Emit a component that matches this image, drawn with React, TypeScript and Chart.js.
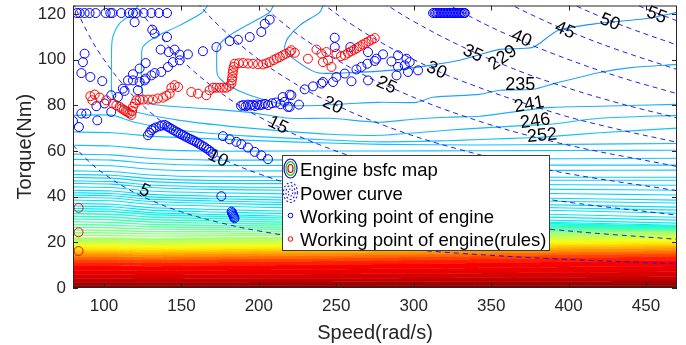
import React, { useEffect, useRef } from 'react';
import { Chart, registerables } from 'chart.js';
Chart.register(...registerables);

const FONT = '"Liberation Sans", Arial, Helvetica, sans-serif';

// ---------- axes ----------
const xTicks = [100, 150, 200, 250, 300, 350, 400, 450];
const yTicks = [0, 20, 40, 60, 80, 100, 120];
const xMin = 80, xMax = 470, yMin = 0, yMax = 123.7;

// ---------- contour grid (speed samples for the near-horizontal contours) ----------
const gridSpeeds = [80, 105, 130, 170, 220, 280, 340, 400, 470];

// filled high-bsfc bands (upper boundary torque at gridSpeeds), bottom to top
const bandTops: number[][] = [
  [1.0, 1.0, 1.0, 1.0, 1.0, 1.1, 1.1, 1.2, 1.2],
  [2.5, 2.5, 2.4, 2.5, 2.6, 2.7, 2.8, 3.0, 3.1],
  [4.0, 4.0, 3.9, 4.0, 4.1, 4.3, 4.5, 4.7, 4.9],
  [5.8, 5.8, 5.7, 5.8, 6.0, 6.2, 6.5, 6.8, 7.1],
  [7.8, 7.8, 7.6, 7.8, 8.0, 8.4, 8.8, 9.2, 9.6],
  [9.8, 9.8, 9.5, 9.8, 10.1, 10.5, 11.0, 11.5, 12.0],
  [11.3, 11.3, 11.0, 11.3, 11.6, 12.1, 12.7, 13.3, 13.8],
  [12.6, 12.6, 12.3, 12.6, 12.9, 13.4, 14.0, 14.6, 15.1],
  [13.8, 13.8, 13.5, 13.8, 14.1, 14.6, 15.2, 15.8, 16.3],
  [15.0, 15.0, 14.7, 15.0, 15.3, 15.8, 16.4, 17.0, 17.5],
  [16.0, 16.0, 15.7, 16.0, 16.3, 16.8, 17.4, 18.0, 18.5],
  [17.0, 17.0, 16.7, 17.0, 17.3, 17.8, 18.4, 19.0, 19.5],
  [18.0, 18.0, 17.7, 18.0, 18.3, 18.8, 19.4, 20.0, 20.5],
  [19.0, 19.0, 18.7, 19.0, 19.3, 19.8, 20.4, 21.0, 21.5],
  [20.0, 20.0, 19.7, 20.0, 20.3, 20.8, 21.4, 22.0, 22.5],
  [21.0, 21.0, 20.7, 21.0, 21.3, 21.8, 22.4, 23.0, 23.5],
  [22.0, 22.0, 21.7, 22.0, 22.3, 22.8, 23.4, 24.0, 24.5],
];
const bandColors = [
  '#860000', '#a40000', '#c00000', '#d80000', '#ea0000', '#f80000', '#ff1e00', '#ff4400',
  '#ff6c00', '#ff9200', '#ffb200', '#ffd200', '#fff000', '#f0ff1e', '#d8ff3c', '#c0ff56', '#a8ff6e',
];

// unlabelled contour lines (torque at gridSpeeds), top to bottom
const contourLines: number[][] = [
  [68.3, 68.0, 66.5, 65.3, 64.0, 62.9, 62.6, 62.9, 63.3],
  [62.5, 62.2, 60.7, 59.9, 60.0, 60.0, 60.1, 60.2, 60.3],
  [58.6, 58.3, 56.8, 56.0, 56.1, 56.3, 56.5, 56.6, 56.8],
  [56.3, 56.0, 54.5, 53.7, 53.7, 53.7, 53.8, 53.8, 53.8],
  [53.8, 53.5, 52.0, 51.2, 51.3, 51.3, 51.4, 51.5, 51.6],
  [51.3, 51.0, 49.5, 48.7, 48.7, 48.6, 48.6, 48.5, 48.5],
  [49.7, 49.4, 47.9, 47.1, 47.1, 47.1, 47.2, 47.2, 47.2],
  [48.4, 48.1, 46.6, 45.8, 45.7, 45.5, 45.3, 45.2, 45.0],
  [46.9, 46.6, 45.1, 44.3, 44.0, 43.8, 43.5, 43.2, 42.8],
  [45.8, 45.5, 44.0, 43.2, 42.8, 42.3, 41.8, 41.3, 40.7],
  [44.3, 44.0, 42.5, 41.7, 41.2, 40.5, 39.9, 39.2, 38.5],
  [42.8, 42.5, 41.0, 40.2, 39.7, 39.1, 38.5, 37.9, 37.2],
  [41.7, 41.4, 39.9, 39.1, 38.5, 37.7, 37.0, 36.3, 35.4],
  [40.7, 40.4, 38.9, 38.1, 37.4, 36.6, 35.8, 35.0, 34.1],
  [39.7, 39.4, 37.9, 37.1, 36.4, 35.5, 34.7, 33.8, 32.8],
  [38.5, 38.2, 36.7, 35.9, 35.1, 34.1, 33.1, 32.1, 31.0],
  [37.0, 36.7, 35.2, 34.4, 33.6, 32.7, 31.7, 30.8, 29.7],
  [35.9, 35.6, 34.1, 33.3, 32.5, 31.5, 30.5, 29.5, 28.4],
  [34.8, 34.5, 33.0, 32.2, 31.4, 30.5, 29.5, 28.6, 27.5],
  [33.8, 33.5, 32.2, 31.4, 30.6, 29.8, 28.9, 28.0, 27.1],
  [32.6, 32.3, 31.1, 30.4, 29.7, 29.0, 28.2, 27.5, 26.8],
  [31.4, 31.1, 30.0, 29.4, 28.8, 28.2, 27.6, 27.0, 26.5],
  [30.2, 29.9, 28.9, 28.4, 27.9, 27.5, 27.0, 26.6, 26.2],
  [29.0, 28.7, 27.8, 27.4, 27.1, 26.8, 26.5, 26.2, 25.9],
  [27.8, 27.5, 26.8, 26.5, 26.3, 26.1, 25.9, 25.8, 25.6],
  [26.6, 26.4, 25.8, 25.6, 25.5, 25.4, 25.4, 25.4, 25.4],
  [25.4, 25.2, 24.7, 24.6, 24.6, 24.7, 24.9, 25.0, 25.2],
  [24.2, 24.1, 23.7, 23.7, 23.8, 24.1, 24.4, 24.7, 25.0],
  [23.1, 23.0, 22.7, 22.9, 23.1, 23.5, 23.9, 24.4, 24.8],
];

// labelled bsfc contours: [speed, torque]
const contour229 = [[241.5, 123.7], [239.3, 120.7], [226.4, 115], [218.6, 109.3], [216.7, 104.9], [221.2, 101], [237.3, 94.4], [263.2, 94.4], [284.5, 95.3], [310.4, 97.5], [329.7, 99.7], [355.6, 104.5], [377, 105.4], [393.1, 112.8], [420.2, 115.9], [450.6, 118], [470, 120.7]];
const contour235 = [[209.5, 123.7], [206.4, 120.4], [189.6, 114.1], [179.2, 109.7], [173.4, 105.4], [172.8, 98.8], [173.4, 93.1], [179.2, 89.2], [194.1, 84.4], [219.9, 80], [241.2, 80], [263.2, 80.9], [278.1, 81.3], [302, 81.3], [312.3, 83.5], [342.7, 84.8], [355.6, 86.6], [377, 87], [391.1, 89.6], [420.2, 94.4], [441.5, 96.6], [470, 97.9]];
const contour241 = [[167, 123.7], [163.1, 120.4], [148.9, 115], [132.7, 109.7], [125, 105.4], [124.3, 98.8], [124.3, 88.8], [126.3, 82.2], [135.9, 80], [161.8, 78.7], [194.1, 76.9], [219.9, 74.3], [245.7, 74.3], [278.1, 72.6], [299.4, 73.9], [321.4, 74.8], [342.7, 75.2], [362.1, 76.9], [387.9, 79.1], [420.2, 79.6], [470, 80.4]];
const contour246 = [[122, 123.7], [118.5, 120.2], [110.1, 115.9], [105.6, 109.7], [104.9, 104.1], [104.9, 95.3], [104.9, 86.6], [106.9, 82.2], [116.6, 77.8], [148.9, 73.4], [194.1, 70], [245.7, 67.3], [278.1, 66.9], [321.4, 69.1], [342.7, 70], [375, 71.3], [387.9, 71.7], [420.2, 74.3], [470, 75.6]];
const contour252 = [[80, 75.6], [105.6, 75.6], [119.8, 72.6], [148.9, 69.1], [194.1, 66.5], [245.7, 64.8], [278.1, 64], [321.4, 64.5], [342.7, 65], [375, 65.8], [387.9, 66.3], [420.2, 68], [470, 70]];
const labelledContours = [contour229, contour235, contour241, contour246, contour252];
const labelledContourColors = ['#2096f3', '#22a6f4', '#1eb0f6', '#1ab8f8', '#16c0fa'];

const contourLabelText = ['229', '235', '241', '246', '252'];
const contourLabelSpeed = [357.5, 368.8, 374.6, 378.5, 382.9];
const contourLabelTorque = [100.8, 88.8, 80.2, 73, 66.7];
const contourLabelAngle = [-35, 0, -10, -8, -5];

// ---------- power curves (kW) : [speed rad/s, torque Nm] ----------
const powerLevels = [5, 10, 15, 20, 25, 30, 35, 40, 45, 50, 55];
const power5 = [[80, 62.5], [90, 55.6], [100, 50], [115, 43.5], [130, 38.5], [150, 33.3], [175, 28.6], [200, 25], [240, 20.8], [280, 17.9], [330, 15.2], [390, 12.8], [470, 10.6]];
const power10 = [[80, 125], [90, 111.1], [100, 100], [115, 87], [130, 76.9], [150, 66.7], [175, 57.1], [200, 50], [240, 41.7], [280, 35.7], [330, 30.3], [390, 25.6], [470, 21.3]];
const power15 = [[120, 125], [130, 115.4], [150, 100], [175, 85.7], [200, 75], [240, 62.5], [280, 53.6], [330, 45.5], [390, 38.5], [470, 31.9]];
const power20 = [[160, 125], [175, 114.3], [200, 100], [220, 90.9], [240, 83.3], [280, 71.4], [330, 60.6], [390, 51.3], [470, 42.6]];
const power25 = [[200, 125], [220, 113.6], [240, 104.2], [260, 96.2], [280, 89.3], [330, 75.8], [390, 64.1], [470, 53.2]];
const power30 = [[240, 125], [260, 115.4], [280, 107.1], [300, 100], [330, 90.9], [390, 76.9], [430, 69.8], [470, 63.8]];
const power35 = [[280, 125], [300, 116.7], [330, 106.1], [360, 97.2], [390, 89.7], [430, 81.4], [470, 74.5]];
const power40 = [[320, 125], [340, 117.6], [360, 111.1], [390, 102.6], [430, 93], [470, 85.1]];
const power45 = [[360, 125], [380, 118.4], [400, 112.5], [430, 104.7], [470, 95.7]];
const power50 = [[400, 125], [420, 119], [440, 113.6], [470, 106.4]];
const power55 = [[440, 125], [455, 120.9], [470, 117]];
const powerCurves = [power5, power10, power15, power20, power25, power30, power35, power40, power45, power50, power55];

const powerLabelSpeed = [126.3, 173.6, 212.4, 247.7, 282.4, 314.7, 338.2, 369.6, 397.6, 426.6, 456.8];
const powerLabelTorque = [42.5, 56.7, 71.3, 80, 88.8, 95.3, 102.7, 109.2, 112.8, 116.4, 119.4];
const powerLabelAngle = [25, 26, 26, 26, 25, 24, 24, 23, 23, 22, 21];

// ---------- working points ----------
const engineTopRow = [82.5, 84.3, 87.5, 90.7, 94.6, 101.1, 104.1, 105.4, 111.2, 116.1, 118.7, 120.9, 125.6, 130.6, 135.5, 140.7];
const engineTopBlob = [312.5, 313.5, 314.5, 315.5, 316.5, 317.5, 318.5, 319.5, 320.5, 321.5, 322.5, 323.5, 324.5, 325.5, 326.5, 327.5, 328.5, 329.5, 330.5, 331.5, 332.5, 333];
const enginePoints = [
  [119.8, 116.4], [131.2, 113.1], [132.7, 111.4], [140.7, 109.9], [87.5, 102.6], [86.4, 98.9], [85.4, 94.1], [91.2, 92.4], [98.9, 90.6],
  [126.9, 98.5], [136.6, 104.4], [141.8, 103.3], [145.6, 104.4], [148.9, 102.2], [154.2, 102.3], [163.9, 103.7], [148.9, 99.7], [144.5, 98.9],
  [141.3, 96.8], [137, 94.6], [132.7, 94.1], [130.6, 93.1], [126.9, 91.7], [123, 96.1], [118.7, 93.6], [115.5, 90.9], [112.2, 87.3],
  [113.3, 86.3], [109, 83.6], [104.7, 84.4], [100.4, 80.8], [95.1, 79.6], [104.7, 77.1], [95.7, 73.4], [85.4, 76.4], [88.6, 76.4],
  [80, 73.1], [83.8, 70.5], [123, 90.2], [121.9, 86.6], [126.3, 90.9], [118.7, 90.9],
  [172.6, 105.5], [181.2, 108.1], [186.5, 108.7], [194.1, 109.9], [201.6, 112.1], [203.8, 115.7], [207, 117.5],
  [188.5, 79.8], [190, 80.1], [191.5, 79.6], [193, 80.3], [194.5, 79.9], [196, 80.2], [197.5, 79.7], [199, 80.4], [200.5, 80],
  [202, 80.3], [204, 80.6], [206, 80.1], [208.5, 80.9], [211, 81.2], [214, 80.5], [219.9, 84.7], [215.4, 83.6], [218.7, 79.3], [216.5, 81.5],
  [128.4, 66.9], [129.5, 68], [130.6, 69.1], [132, 69.8], [133.5, 70.3], [135.9, 70.8], [137.5, 71.2], [139.2, 71.4], [140.7, 70.8],
  [142, 70.3], [143.5, 69.7], [145, 69.1], [146.5, 68.5], [148, 68], [149.5, 67.4], [151, 66.9], [152.5, 66.3], [154, 65.8],
  [155.5, 65.3], [157, 64.8], [158.5, 64.3], [160, 63.7], [161.5, 63.1], [163, 62.5], [164.5, 61.9], [166, 61.2], [167.5, 60.5],
  [169, 59.7], [170.4, 58.9],
  [176.8, 66.5], [181.2, 65.1], [185.5, 64], [188.7, 63], [193, 61.5], [197.3, 59.6], [201.6, 58.1], [205.9, 56.4],
  [175.8, 40.2], [182.4, 33.4], [182.8, 32.8], [183.2, 32.2], [183.6, 31.6], [184, 31], [184.3, 30.5],
  [249, 109.6], [249, 105.5], [259.1, 105.5], [270.5, 103.3], [280.2, 102.3], [289.9, 101.9], [295.3, 100.4], [297.4, 98.9], [294.2, 97.5],
  [289.9, 96.8], [285.6, 99.2], [275.9, 100.4], [274.8, 99.4], [270.1, 98.2], [266.2, 96.8], [263, 95.7], [255.5, 93.9], [250.1, 92.4],
  [247.9, 90.2], [241.4, 90.2], [240.4, 89.5], [235, 88.3], [229.6, 87], [221, 84.4], [225.9, 80.3], [219.9, 79.3], [259.8, 90.5],
  [270.5, 90.9], [288.9, 93.1], [296.3, 94.6], [302.8, 95.3],
];
const rulesPoints = [
  [91.2, 84], [94, 84.7], [92.5, 82.2], [97.2, 83.4], [101.5, 82.2], [105.8, 80.8], [108, 80], [110.1, 79.3], [111.5, 78.6], [112.8, 78],
  [114, 77.5], [115.2, 77], [116.5, 76.5], [117.7, 75.8], [118.2, 77.5], [118.7, 79.3], [120, 80.8], [120.9, 82.2], [123, 82.4], [125.2, 82.5],
  [128.5, 82.5], [131.6, 82.5], [134.8, 83], [138.1, 83.4], [140.3, 84.2], [142.4, 85.1], [143.5, 87.7], [145.6, 88.8], [147.8, 88],
  [156.4, 85.8], [160.7, 85.1], [166.1, 84.4], [168.2, 86.6], [170.4, 87.7], [172.5, 87.7], [174.7, 87.7], [177, 87.7], [179, 87.7],
  [181, 88.5], [182.3, 89.5], [182.6, 91], [182.9, 92.4], [183.1, 94], [183.3, 95.3], [183.8, 96.8], [184.4, 98.2], [187, 98.4],
  [189.8, 98.5], [193, 98.3], [196.2, 98.2], [199.5, 98], [202.7, 97.9], [205, 98.4], [207, 98.9], [209.5, 99.8], [211.5, 100.5],
  [213.5, 101.1], [215.5, 101.9], [217.5, 102.6], [219.9, 103.3], [223.2, 103],
  [221, 104.1], [231.7, 100.4], [237.2, 104.4], [240.4, 102.6], [241.4, 98.9], [243.6, 103.3], [244.7, 99.7], [246.9, 96.8], [250.1, 102.6],
  [253, 101.5], [255.5, 101.9], [257.6, 102.9], [259.5, 103.6], [261.4, 104.3], [263.3, 105], [265.2, 105.8], [267.1, 106.6], [269, 107.3],
  [270.9, 108], [272.8, 108.7], [274.8, 109.4],
  [83.6, 35.1], [83.6, 24.4], [83.6, 16.2],
];

const legendLabels = ['Engine bsfc map', 'Power curve', 'Working point of engine', 'Working point of engine(rules)'];

// ---------- helpers ----------
function mix(a: string, b: string, t: number) {
  const pa = [1, 3, 5].map((i) => parseInt(a.slice(i, i + 2), 16));
  const pb = [1, 3, 5].map((i) => parseInt(b.slice(i, i + 2), 16));
  return 'rgb(' + pa.map((v, i) => Math.round(v + (pb[i] - v) * t)).join(',') + ')';
}
const xy = (arr: number[][]) => arr.map(([x, y]) => ({ x, y }));
const onGrid = (arr: number[]) => gridSpeeds.map((x, i) => ({ x, y: arr[i] }));

function buildDatasets() {
  const ds: any[] = [];
  const pointBase = { showLine: false, pointRadius: 4.5, pointBorderWidth: 1, pointBackgroundColor: 'rgba(0,0,0,0)', pointStyle: 'circle' };
  ds.push({ ...pointBase, data: xy(rulesPoints), pointBorderColor: '#ff0000', borderColor: '#ff0000', order: 1 });
  const blue = [
    ...engineTopRow.map((x) => [x, 120.4]),
    ...engineTopBlob.map((x) => [x, 120.4]),
    ...enginePoints,
  ];
  ds.push({ ...pointBase, data: xy(blue), pointBorderColor: '#0000ff', borderColor: '#0000ff', order: 2 });
  powerCurves.forEach((c) => {
    ds.push({ data: xy(c), borderColor: 'rgba(10,10,240,0.9)', borderWidth: 1, borderDash: [5, 4], pointRadius: 0, tension: 0.4, fill: false, order: 3 });
  });
  labelledContours.forEach((c, i) => {
    ds.push({ data: xy(c), borderColor: labelledContourColors[i], borderWidth: 1.1, pointRadius: 0, tension: 0.25, fill: false, order: 4 });
  });
  contourLines.forEach((c, i) => {
    let col: string;
    if (i < 19) col = mix('#14beff', '#00ecf2', i / 18);
    else col = mix('#14fadc', '#9cff74', (i - 19) / 9);
    ds.push({ data: onGrid(c), borderColor: col, borderWidth: i < 19 ? 1.1 : 1.4, pointRadius: 0, tension: 0.2, fill: false, order: 5 });
  });
  bandTops.forEach((c, i) => {
    ds.push({
      data: onGrid(c),
      borderColor: i + 1 < bandColors.length ? mix(bandColors[i], bandColors[i + 1], 0.5) : bandColors[i],
      borderWidth: 0.8,
      backgroundColor: bandColors[i],
      pointRadius: 0,
      tension: 0.2,
      fill: i === 0 ? 'origin' : '-1',
      order: 6,
    });
  });
  return ds;
}

const overlayPlugin = {
  id: 'overlay',
  afterDatasetsDraw(chart: any) {
    const ctx = chart.ctx;
    const xs = chart.scales.x, ys = chart.scales.y;
    ctx.save();
    ctx.fillStyle = '#000';
    ctx.font = '18px ' + FONT;
    ctx.textAlign = 'center';
    ctx.textBaseline = 'middle';
    const put = (t: string, sx: number, ty: number, ang: number) => {
      ctx.save();
      ctx.translate(xs.getPixelForValue(sx), ys.getPixelForValue(ty));
      ctx.rotate((ang * Math.PI) / 180);
      ctx.fillText(t, 0, 0);
      ctx.restore();
    };
    powerLevels.forEach((p, i) => put(String(p), powerLabelSpeed[i], powerLabelTorque[i], powerLabelAngle[i]));
    contourLabelText.forEach((t, i) => put(t, contourLabelSpeed[i], contourLabelTorque[i], contourLabelAngle[i]));
    ctx.restore();
  },
  afterDraw(chart: any) {
    const ctx = chart.ctx;
    const { left, top, right, bottom } = chart.chartArea;
    const xs = chart.scales.x, ys = chart.scales.y;
    ctx.save();
    // legend
    const lx = 282, ly = 155, lw = 268, lh = 96;
    ctx.fillStyle = '#ffffff';
    ctx.fillRect(lx, ly, lw, lh);
    ctx.strokeStyle = '#3c3c3c';
    ctx.lineWidth = 1;
    ctx.strokeRect(lx + 0.5, ly + 0.5, lw - 1, lh - 1);
    const ell = (cx: number, cy: number, rx: number, ry: number, color: string, dash: number[] = [], w = 1.2) => {
      ctx.beginPath();
      ctx.setLineDash(dash);
      ctx.strokeStyle = color;
      ctx.lineWidth = w;
      ctx.ellipse(cx, cy, rx, ry, 0, 0, Math.PI * 2);
      ctx.stroke();
    };
    ell(290.5, 168.5, 6.5, 9.5, '#0a0ac8');
    ell(290.5, 168.5, 4.5, 6.8, '#20c020');
    ell(290.5, 168.5, 2.5, 4, '#c00000');
    ell(290.5, 192.5, 7, 10, '#2828e0', [2, 2]);
    ell(290.5, 192.5, 4.6, 7, '#2828e0', [2, 2]);
    ell(290.5, 192.5, 2.2, 3.6, '#2828e0', [1.5, 1.5]);
    ctx.setLineDash([]);
    ell(290.5, 215.5, 2.3, 2.3, '#0000ff', [], 1);
    ell(290.5, 239, 2.3, 2.3, '#ff0000', [], 1);
    ctx.fillStyle = '#000';
    ctx.font = '18.5px ' + FONT;
    ctx.textAlign = 'left';
    ctx.textBaseline = 'alphabetic';
    const baselines = [176, 199.5, 223, 246];
    legendLabels.forEach((t, i) => ctx.fillText(t, 300, baselines[i]));
    // axes box and inward ticks
    ctx.strokeStyle = '#262626';
    ctx.lineWidth = 1;
    ctx.strokeRect(left + 0.5, top + 0.5, right - left - 1, bottom - top - 1);
    ctx.beginPath();
    xTicks.forEach((v) => {
      const px = Math.round(xs.getPixelForValue(v)) + 0.5;
      ctx.moveTo(px, bottom); ctx.lineTo(px, bottom - 5);
      ctx.moveTo(px, top); ctx.lineTo(px, top + 5);
    });
    yTicks.forEach((v) => {
      const py = Math.round(ys.getPixelForValue(v)) + 0.5;
      ctx.moveTo(left, py); ctx.lineTo(left + 5, py);
      ctx.moveTo(right, py); ctx.lineTo(right - 5, py);
    });
    ctx.stroke();
    ctx.restore();
  },
};

export default function App() {
  const ref = useRef<HTMLCanvasElement>(null);
  useEffect(() => {
    document.body.style.margin = '0';
    const chart = new Chart(ref.current as HTMLCanvasElement, {
      type: 'line',
      data: { datasets: buildDatasets() },
      options: {
        animation: false,
        responsive: false,
        devicePixelRatio: 1,
        events: [],
        layout: { padding: { top: 5, right: 9, left: 0, bottom: 0 } },
        plugins: { legend: { display: false }, tooltip: { enabled: false } },
        scales: {
          x: {
            type: 'linear',
            min: xMin,
            max: xMax,
            grid: { display: false, drawTicks: false },
            border: { display: false },
            ticks: { font: { family: FONT, size: 17 }, color: '#262626', padding: 8, autoSkip: false, maxRotation: 0 },
            title: { display: true, text: 'Speed(rad/s)', font: { family: FONT, size: 20 }, color: '#262626', padding: { top: 0, bottom: 0 } },
            afterBuildTicks: (s: any) => { s.ticks = xTicks.map((v) => ({ value: v })); },
            afterFit: (s: any) => { s.height = 57; s.paddingLeft = 0; s.paddingRight = 0; },
          },
          y: {
            type: 'linear',
            min: yMin,
            max: yMax,
            grid: { display: false, drawTicks: false },
            border: { display: false },
            ticks: { font: { family: FONT, size: 17 }, color: '#262626', padding: 7, autoSkip: false },
            title: { display: true, text: 'Torque(Nm)', font: { family: FONT, size: 20 }, color: '#262626', padding: { top: 13, bottom: 0 } },
            afterBuildTicks: (s: any) => { s.ticks = yTicks.map((v) => ({ value: v })); },
            afterFit: (s: any) => { s.width = 73; s.paddingTop = 0; s.paddingBottom = 0; },
          },
        },
      } as any,
      plugins: [overlayPlugin],
    });
    return () => chart.destroy();
  }, []);
  return (
    <div style={{ width: 686, height: 345 }}>
      <canvas ref={ref} width={686} height={345} style={{ display: 'block' }} />
    </div>
  );
}
